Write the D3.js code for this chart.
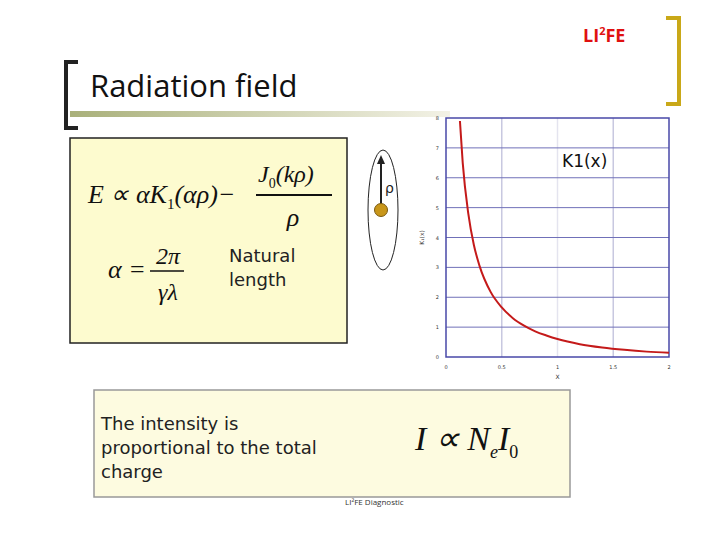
<!DOCTYPE html>
<html><head><meta charset="utf-8">
<script src="https://cdn.jsdelivr.net/npm/d3@7"></script>
<style>body{margin:0;background:#fff}svg{display:block}</style>
</head><body>
<svg id="s" width="720" height="540"></svg>
<script>
// K1(x) curve
var xs = [0.125, 0.15, 0.2, 0.25, 0.3, 0.4, 0.5, 0.6, 0.7, 0.8, 0.9, 1.0, 1.2, 1.4, 1.6, 1.8, 2.0];
var ks = [7.9, 6.5, 4.8, 3.75, 3.06, 2.18, 1.66, 1.30, 1.05, 0.86, 0.72, 0.60, 0.43, 0.32, 0.24, 0.18, 0.14];
var xTicks = [0, 0.5, 1, 1.5, 2];
var xTickLabels = ["0", "0.5", "1", "1.5", "2"];
var yTicks = [0, 1, 2, 3, 4, 5, 6, 7, 8];

var svg = d3.select("#s");
var defs = svg.append("defs");
var g = defs.append("linearGradient").attr("id", "ul");
g.append("stop").attr("offset", "0").attr("stop-color", "#a9b07a");
g.append("stop").attr("offset", "1").attr("stop-color", "#f3f2e6");

// slide decoration
svg.append("rect").attr("x", 70).attr("y", 111).attr("width", 380).attr("height", 6).attr("fill", "url(#ul)");
svg.append("path").attr("d", "M78,62 H66 V128 H78").attr("fill", "none").attr("stroke", "#222").attr("stroke-width", 4);
svg.append("path").attr("d", "M666,18 H679 V104 H666").attr("fill", "none").attr("stroke", "#c9a818").attr("stroke-width", 4);
svg.append("text").attr("x", 90).attr("y", 97).attr("font-family", "Open Sans").attr("font-size", 31).attr("fill", "#111").text("Radiation field");
var lf = svg.append("text").attr("x", 583).attr("y", 42).attr("font-family", "Open Sans").attr("font-weight", "bold").attr("font-size", 18).attr("fill", "#e01010");
lf.append("tspan").text("LI");
lf.append("tspan").attr("font-size", 11).attr("dy", -7).text("2");
lf.append("tspan").attr("dy", 7).text("FE");

// yellow formula box
svg.append("rect").attr("x", 70).attr("y", 138).attr("width", 277).attr("height", 205).attr("fill", "#fdfbcf").attr("stroke", "#222").attr("stroke-width", 1.5);
var ser = "Liberation Serif";
var f1 = svg.append("text").attr("x", 88).attr("y", 203).attr("font-family", ser).attr("font-style", "italic").attr("font-size", 26).attr("fill", "#111");
f1.append("tspan").text("E \u221D \u03B1K");
f1.append("tspan").attr("font-size", 15).attr("dy", 6).attr("font-style", "normal").text("1");
f1.append("tspan").attr("dy", -6).text("(\u03B1\u03C1)\u2212");
var f2 = svg.append("text").attr("x", 258).attr("y", 182).attr("font-family", ser).attr("font-style", "italic").attr("font-size", 24).attr("fill", "#111");
f2.append("tspan").text("J");
f2.append("tspan").attr("font-size", 14).attr("dy", 6).attr("font-style", "normal").text("0");
f2.append("tspan").attr("dy", -6).text("(k\u03C1)");
svg.append("line").attr("x1", 256).attr("x2", 332).attr("y1", 195).attr("y2", 195).attr("stroke", "#111").attr("stroke-width", 2);
svg.append("text").attr("x", 293).attr("y", 226).attr("text-anchor", "middle").attr("font-family", ser).attr("font-style", "italic").attr("font-size", 26).attr("fill", "#111").text("\u03C1");
svg.append("text").attr("x", 108).attr("y", 278).attr("font-family", ser).attr("font-style", "italic").attr("font-size", 26).attr("fill", "#111").text("\u03B1 =");
svg.append("text").attr("x", 168).attr("y", 264).attr("text-anchor", "middle").attr("font-family", ser).attr("font-style", "italic").attr("font-size", 24).attr("fill", "#111").text("2\u03C0");
svg.append("line").attr("x1", 150).attr("x2", 184).attr("y1", 271).attr("y2", 271).attr("stroke", "#111").attr("stroke-width", 1.5);
svg.append("text").attr("x", 168).attr("y", 300).attr("text-anchor", "middle").attr("font-family", ser).attr("font-style", "italic").attr("font-size", 24).attr("fill", "#111").text("\u03B3\u03BB");
svg.append("text").attr("x", 229).attr("y", 262).attr("font-family", "DejaVu Sans").attr("font-size", 18).attr("fill", "#222").text("Natural");
svg.append("text").attr("x", 229).attr("y", 286).attr("font-family", "DejaVu Sans").attr("font-size", 18).attr("fill", "#222").text("length");

// ellipse with rho
svg.append("ellipse").attr("cx", 383).attr("cy", 210).attr("rx", 15).attr("ry", 60).attr("fill", "#fff").attr("stroke", "#222");
svg.append("line").attr("x1", 381).attr("x2", 381).attr("y1", 210).attr("y2", 160).attr("stroke", "#222").attr("stroke-width", 2);
svg.append("path").attr("d", "M377,164 L381,155 L385,164 Z").attr("fill", "#222");
svg.append("circle").attr("cx", 381).attr("cy", 210).attr("r", 6.5).attr("fill", "#c8961a").attr("stroke", "#7a5a10");
svg.append("text").attr("x", 385).attr("y", 193).attr("font-family", "DejaVu Sans").attr("font-size", 14).attr("fill", "#222").text("\u03C1");

// K1 plot
var L = 446, R = 669, T = 118, B = 357;
var x = d3.scaleLinear().domain([0, 2]).range([L, R]);
var y = d3.scaleLinear().domain([0, 8]).range([B, T]);
var p = svg.append("g");
p.selectAll(".gx").data(xTicks.slice(1, 4)).join("line")
  .attr("x1", d => x(d)).attr("x2", d => x(d)).attr("y1", T).attr("y2", B)
  .attr("stroke", (d, i) => i == 1 ? "#e4e4ef" : "#c8c8e0").attr("stroke-width", 1.5);
p.selectAll(".gy").data(yTicks.slice(1, 8)).join("line")
  .attr("x1", L).attr("x2", R).attr("y1", d => y(d)).attr("y2", d => y(d))
  .attr("stroke", "#7070b8").attr("stroke-width", 1);
p.append("rect").attr("x", L).attr("y", T).attr("width", R - L).attr("height", B - T).attr("fill", "none").attr("stroke", "#4848a8").attr("stroke-width", 1.5);
p.append("path").datum(xs.map((d, i) => [d, ks[i]]))
  .attr("d", d3.line().x(d => x(d[0])).y(d => y(d[1])).curve(d3.curveMonotoneX))
  .attr("fill", "none").attr("stroke", "#c41a1a").attr("stroke-width", 2);
p.selectAll(".yl").data(yTicks).join("text").attr("x", L - 7).attr("y", d => y(d) + 2)
  .attr("text-anchor", "end").attr("font-family", "DejaVu Sans").attr("font-size", 5).attr("fill", "#333").text(d => d);
p.selectAll(".xl").data(xTicks).join("text").attr("x", d => x(d)).attr("y", B + 12)
  .attr("text-anchor", "middle").attr("font-family", "DejaVu Sans").attr("font-size", 5).attr("fill", "#333").text((d, i) => xTickLabels[i]);
p.append("text").attr("x", x(1)).attr("y", B + 22).attr("text-anchor", "middle").attr("font-family", "DejaVu Sans").attr("font-size", 6).attr("fill", "#333").text("X");
p.append("text").attr("transform", "translate(424," + y(4) + ") rotate(-90)").attr("text-anchor", "middle").attr("font-family", "DejaVu Sans").attr("font-size", 6).attr("fill", "#333").text("K\u2081(x)");
p.append("text").attr("x", 562).attr("y", 167).attr("font-family", "DejaVu Sans").attr("font-size", 17).attr("fill", "#111").text("K1(x)");

// bottom box
svg.append("rect").attr("x", 94).attr("y", 390).attr("width", 476).attr("height", 107).attr("fill", "#fdfbe0").attr("stroke", "#999").attr("stroke-width", 1.5);
["The intensity is", "proportional to the total", "charge"].forEach(function (t, i) {
  svg.append("text").attr("x", 101).attr("y", 430 + i * 24).attr("font-family", "DejaVu Sans").attr("font-size", 18).attr("fill", "#222").text(t);
});
var f3 = svg.append("text").attr("x", 415).attr("y", 450).attr("font-family", ser).attr("font-style", "italic").attr("font-size", 34).attr("fill", "#111");
f3.append("tspan").text("I \u221D N");
f3.append("tspan").attr("font-size", 18).attr("dy", 8).text("e");
f3.append("tspan").attr("dy", -8).text("I");
f3.append("tspan").attr("font-size", 18).attr("dy", 8).attr("font-style", "normal").text("0");
svg.append("text").attr("x", 345).attr("y", 505).attr("font-family", "Open Sans").attr("font-size", 8).attr("fill", "#333").text("LI\u00B2FE Diagnostic");
</script>
</body></html>
